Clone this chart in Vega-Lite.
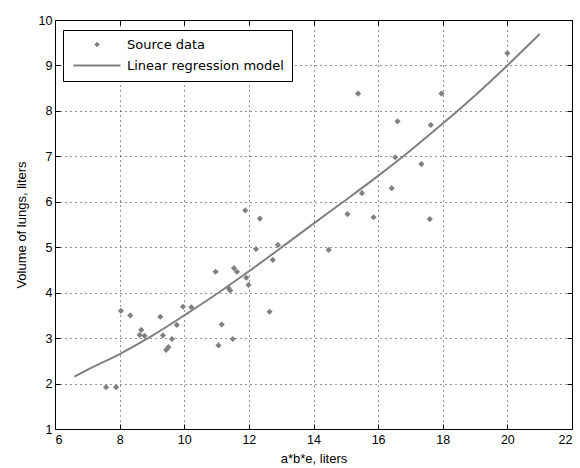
{
  "$schema": "https://vega.github.io/schema/vega-lite/v6.json",
  "width": 517,
  "height": 409,
  "autosize": "none",
  "padding": {"left": 55, "top": 20, "right": 8, "bottom": 39},
  "background": "white",
  "config": {
    "font": "Liberation Sans",
    "view": {"stroke": "black", "strokeWidth": 1},
    "axis": {
      "domain": false,
      "grid": true,
      "gridColor": "#000000",
      "gridDash": [1, 4],
      "gridOpacity": 0.85,
      "gridWidth": 1,
      "tickColor": "#000000",
      "tickSize": -5,
      "labelColor": "#000000",
      "labelFontSize": 12.5,
      "titleColor": "#000000",
      "titleFontSize": 13,
      "titleFontWeight": "normal"
    }
  },
  "datasets": {
    "points": [
      {"x": 7.58, "y": 1.92, "series": "Source data"},
      {"x": 7.89, "y": 1.92, "series": "Source data"},
      {"x": 8.04, "y": 3.6, "series": "Source data"},
      {"x": 8.33, "y": 3.5, "series": "Source data"},
      {"x": 8.67, "y": 3.18, "series": "Source data"},
      {"x": 8.62, "y": 3.07, "series": "Source data"},
      {"x": 8.77, "y": 3.05, "series": "Source data"},
      {"x": 9.26, "y": 3.47, "series": "Source data"},
      {"x": 9.34, "y": 3.06, "series": "Source data"},
      {"x": 9.62, "y": 2.98, "series": "Source data"},
      {"x": 9.44, "y": 2.74, "series": "Source data"},
      {"x": 9.51, "y": 2.8, "series": "Source data"},
      {"x": 9.77, "y": 3.29, "series": "Source data"},
      {"x": 9.96, "y": 3.69, "series": "Source data"},
      {"x": 10.22, "y": 3.68, "series": "Source data"},
      {"x": 10.97, "y": 4.46, "series": "Source data"},
      {"x": 11.06, "y": 2.84, "series": "Source data"},
      {"x": 11.16, "y": 3.3, "series": "Source data"},
      {"x": 11.37, "y": 4.1, "series": "Source data"},
      {"x": 11.42, "y": 4.05, "series": "Source data"},
      {"x": 11.5, "y": 2.98, "series": "Source data"},
      {"x": 11.54, "y": 4.54, "series": "Source data"},
      {"x": 11.63, "y": 4.46, "series": "Source data"},
      {"x": 11.89, "y": 5.81, "series": "Source data"},
      {"x": 11.92, "y": 4.33, "series": "Source data"},
      {"x": 11.99, "y": 4.17, "series": "Source data"},
      {"x": 12.22, "y": 4.96, "series": "Source data"},
      {"x": 12.34, "y": 5.63, "series": "Source data"},
      {"x": 12.64, "y": 3.58, "series": "Source data"},
      {"x": 12.74, "y": 4.72, "series": "Source data"},
      {"x": 12.9, "y": 5.05, "series": "Source data"},
      {"x": 14.47, "y": 4.94, "series": "Source data"},
      {"x": 15.05, "y": 5.73, "series": "Source data"},
      {"x": 15.38, "y": 8.38, "series": "Source data"},
      {"x": 15.5, "y": 6.19, "series": "Source data"},
      {"x": 15.86, "y": 5.66, "series": "Source data"},
      {"x": 16.42, "y": 6.3, "series": "Source data"},
      {"x": 16.53, "y": 6.98, "series": "Source data"},
      {"x": 16.6, "y": 7.77, "series": "Source data"},
      {"x": 17.34, "y": 6.83, "series": "Source data"},
      {"x": 17.6, "y": 5.62, "series": "Source data"},
      {"x": 17.63, "y": 7.69, "series": "Source data"},
      {"x": 17.96, "y": 8.38, "series": "Source data"},
      {"x": 20.0, "y": 9.27, "series": "Source data"}
    ],
    "model": [
      {"x": 6.6, "y": 2.15, "series": "Linear regression model"},
      {"x": 7.0, "y": 2.3, "series": "Linear regression model"},
      {"x": 8.0, "y": 2.65, "series": "Linear regression model"},
      {"x": 9.0, "y": 3.05, "series": "Linear regression model"},
      {"x": 10.0, "y": 3.5, "series": "Linear regression model"},
      {"x": 11.0, "y": 3.97, "series": "Linear regression model"},
      {"x": 12.0, "y": 4.47, "series": "Linear regression model"},
      {"x": 13.0, "y": 4.99, "series": "Linear regression model"},
      {"x": 14.0, "y": 5.52, "series": "Linear regression model"},
      {"x": 15.0, "y": 6.04, "series": "Linear regression model"},
      {"x": 16.0, "y": 6.57, "series": "Linear regression model"},
      {"x": 17.0, "y": 7.13, "series": "Linear regression model"},
      {"x": 18.0, "y": 7.72, "series": "Linear regression model"},
      {"x": 19.0, "y": 8.34, "series": "Linear regression model"},
      {"x": 20.0, "y": 9.0, "series": "Linear regression model"},
      {"x": 21.0, "y": 9.69, "series": "Linear regression model"}
    ]
  },
  "layer": [
    {
      "data": {"name": "model"},
      "mark": {"type": "line", "strokeWidth": 2, "color": "#808080", "interpolate": "monotone"},
      "encoding": {
        "x": {"field": "x", "type": "quantitative", "scale": {"domain": [6, 22], "nice": false}, "axis": {"values": [6, 8, 10, 12, 14, 16, 18, 20, 22], "title": "a*b*e, liters", "labelPadding": 9, "titlePadding": 7}},
        "y": {"field": "y", "type": "quantitative", "scale": {"domain": [1, 10], "nice": false, "zero": false}, "axis": {"values": [1, 2, 3, 4, 5, 6, 7, 8, 9, 10], "title": "Volume of lungs, liters", "labelPadding": 8, "titlePadding": 10}},
        "color": {
          "field": "series", "type": "nominal",
          "scale": {"domain": ["Source data", "Linear regression model"], "range": ["#808080", "#808080"]},
          "legend": {
            "title": null,
            "orient": "none",
            "legendX": 8,
            "legendY": 10,
            "fillColor": "white",
            "strokeColor": "#000000",
            "padding": 8,
            "rowPadding": 7,
            "labelFont": "DejaVu Sans",
            "labelFontSize": 13,
            "labelColor": "#000000",
            "labelLimit": 400,
            "symbolSize": 30,
            "encode": {
              "symbols": {
                "update": {
                  "x": {"value": 26},
                  "shape": {"signal": "datum.value === 'Source data' ? 'diamond' : 'stroke'"},
                  "size": {"signal": "datum.value === 'Source data' ? 30 : 2209"},
                  "fill": {"value": "#808080"},
                  "stroke": {"value": "#808080"},
                  "strokeWidth": {"signal": "datum.value === 'Source data' ? 0 : 2"}
                }
              },
              "labels": {
                "update": {
                  "x": {"value": 56}
                }
              }
            }
          }
        }
      }
    },
    {
      "data": {"name": "points"},
      "mark": {"type": "point", "shape": "diamond", "filled": true, "size": 38, "opacity": 1},
      "encoding": {
        "x": {"field": "x", "type": "quantitative", "axis": {"orient": "top", "values": [6, 8, 10, 12, 14, 16, 18, 20, 22], "labels": false, "title": null, "grid": false}},
        "y": {"field": "y", "type": "quantitative", "axis": {"orient": "right", "values": [1, 2, 3, 4, 5, 6, 7, 8, 9, 10], "labels": false, "title": null, "grid": false}},
        "color": {"field": "series", "type": "nominal"}
      }
    }
  ],
  "resolve": {"axis": {"x": "independent", "y": "independent"}}
}
